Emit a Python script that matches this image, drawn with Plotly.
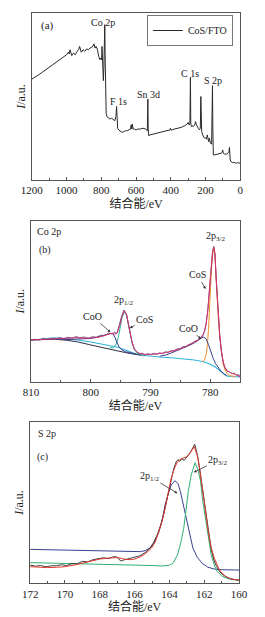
import plotly.graph_objects as go

W, H = 265, 617

# ---------------- Panel (a): survey spectrum ----------------
a_ev = [1200, 1180, 1160, 1140, 1120, 1100, 1080, 1060, 1040, 1020, 1000, 990, 985, 980, 975, 970,
        960, 950, 940, 930, 925, 920, 915, 905, 895, 885, 875, 865, 855, 848, 842, 836, 830, 822,
        815, 808, 803, 798, 796, 794, 791, 788, 785, 782, 780, 778, 775, 772, 768, 760, 750, 740,
        730, 722, 716, 712, 709, 706, 700, 690, 680, 670, 660, 650, 640, 632, 628, 625, 622, 619,
        616, 610, 600, 590, 575, 560, 545, 535, 532, 530, 527, 520, 500, 480, 460, 440, 420, 405,
        402, 398, 380, 360, 340, 320, 305, 300, 295, 290, 287, 285, 282, 278, 270, 262, 258, 252,
        248, 242, 235, 230, 227, 224, 222, 218, 210, 200, 195, 190, 185, 182, 178, 172, 165, 162,
        160, 158, 155, 150, 140, 130, 120, 110, 105, 101, 98, 90, 80, 72, 66, 62, 58, 53, 45, 35,
        25, 15, 8, 0]
a_int = [60.4, 61.5, 63, 64.5, 66, 67, 68.5, 70, 71.5, 73.5, 75, 76.5, 75.5, 78, 76, 74.5,
         76, 75, 77, 78, 80, 77, 76.5, 78, 77, 78.5, 78, 79, 79.5, 80, 81.5, 79, 80, 78,
         74, 72, 73, 72, 80, 72, 60, 59.5, 68, 80, 93, 75, 50, 40, 38, 37.5, 36.5, 37,
         36, 35.5, 38, 44, 38, 31, 30, 29, 28.5, 29, 29.5, 29.5, 30, 30.5, 33, 30.5, 33.5, 31,
         30.5, 30.5, 30, 30.5, 30.5, 31, 30.5, 29.5, 48.5, 31, 26.5, 27, 27.5, 28, 28.5, 29, 29.5, 30,
         31, 29.8, 30.5, 31, 31.5, 32.5, 33.5, 34.5, 33, 33.5, 61.5, 34, 32, 32.5, 32, 33, 35, 33,
         32, 31, 30, 31, 50, 35, 29, 27.5, 25.5, 25, 24.5, 27, 25, 23, 25, 22, 21.5, 40,
         56.5, 30, 15, 15, 15.2, 15.5, 15.5, 16, 16.5, 18, 16, 15.5, 15.5, 16, 16.5, 19.5, 12, 11, 10.5, 10.5,
         10, 10.5, 10, 10.5]
a_series = "CoS/FTO"
a_ticks = [1200, 1000, 800, 600, 400, 200, 0]

# ---------------- Panel (b): Co 2p ----------------
b_raw_ev = [810, 809.32, 808.63, 807.95, 807.26, 806.58, 805.89, 805.21, 804.52, 803.84, 803.15,
            802.47, 801.78, 801.10, 800.42, 799.73, 799.05, 798.36, 797.68, 796.99, 796.50, 796.01,
            795.62, 795.23, 794.84, 794.45, 794.06, 793.67, 793.37, 793.08, 792.69, 792.30, 791.91,
            791.42, 790.93, 790.44, 789.95, 789.46, 788.97, 788.48, 787.99, 787.51, 787.02, 786.53,
            786.04, 785.55, 785.06, 784.57, 784.08, 783.59, 783.10, 782.62, 782.13, 781.64, 781.25,
            780.95, 780.66, 780.37, 780.07, 779.78, 779.58, 779.39, 779.19, 779.00, 778.70, 778.41,
            778.12, 777.82, 777.53, 777.14, 776.75, 776.36, 775.97, 775.57, 775.18, 775.0]
b_raw = [25.5, 26.4, 25.8, 26.9, 26.1, 27.0, 26.3, 27.4, 26.6, 27.6, 27.0, 28.0, 27.2,
         27.8, 26.8, 27.9, 27.6, 28.8, 28.6, 30.2, 29.8, 30.6, 30.0, 35.5, 40.5,
         44.5, 42, 35, 28.5, 24.8, 20.0, 18.8, 17.2, 17.8, 16.6, 17.4, 16.8,
         17.6, 17.0, 17.9, 17.4, 18.6, 18.2, 19.4, 19.0, 20.4, 20.2, 21.8, 21.6, 23.2, 23.4,
         25.0, 25.4, 27.4, 28.2, 31.5, 36.5, 45.5, 60.5, 74.5, 81.5, 84, 79.5, 64.5,
         44.5, 29.5, 18.5, 12.0, 8.5, 6.5, 6.2, 5.0, 5.4, 4.0, 4.4, 2.8]
b_fit_ev = [810, 808.04, 806.09, 804.13, 802.47, 801.20, 800.22, 799.24, 798.26, 797.29, 796.60,
            795.92, 795.53, 795.13, 794.74, 794.35, 793.96, 793.67, 793.37, 793.08, 792.69, 792.20,
            791.61, 790.93, 789.46, 788.48, 787.51, 786.53, 785.55, 784.57, 783.59, 782.62, 781.93,
            781.34, 780.95, 780.66, 780.37, 780.07, 779.78, 779.58, 779.39, 779.19, 779.00, 778.70,
            778.41, 778.12, 777.82, 777.53, 777.14, 776.75, 776.06, 775.48, 775.0]
b_fit = [25.9, 26.2, 26.5, 26.8, 27.3, 27.0, 27.0, 27.3, 28, 29.2, 30, 29.5, 30.5, 35, 41,
         44, 41.5, 35.5, 29, 24.5, 20.5, 18.2, 17.3, 17.0, 17.0, 17.3, 18.0, 18.8, 19.8,
         21.2, 22.8, 24.5, 26.2, 28.5, 31, 36, 45, 60, 74, 81, 83.5, 79,
         65, 45, 30, 19, 12.5, 9, 7, 5.8, 5, 4, 3.2]
b_bg_ev = [810, 808.04, 806.09, 804.13, 802.18, 800.22, 798.26, 796.31, 795.33, 794.35, 793.37,
           792.40, 791.42, 790.44, 788.48, 786.53, 784.57, 782.62, 781.15, 780.17, 779.19, 778.22,
           777.73, 777.24, 776.75, 775.77, 775.0]
b_bg = [25.9, 26.6, 27.2, 26.8, 26.0, 24.8, 23.4, 22.2, 21.2, 19.8, 18.4, 17.2, 16.4, 15.9, 15.3,
        14.9, 14.3, 13.5, 12.4, 11.2, 9.3, 6.5, 4.5, 3.6, 3.2, 3.1, 3.0]
b_bg2_ev = [810, 808.04, 806.09, 804.13, 802.18, 800.22, 798.26, 796.31, 794.35, 792.89, 791.42]
b_bg2 = [25.9, 26.3, 26.4, 25.8, 24.7, 23.0, 21.3, 19.7, 18.2, 17.2, 16.4]
b_coo1_ev = [806.09, 804.13, 802.18, 800.22, 798.75, 797.78, 796.89, 796.31, 795.92, 795.62, 795.23,
             794.74, 794.16, 793.37, 792.40]
b_coo1 = [26.4, 26.2, 26.5, 26.8, 27.8, 28.8, 29.8, 29.9, 27.5, 24.3, 21.5, 19.6, 18.6, 18.0, 17.2]
b_cos1_ev = [796.80, 796.31, 795.92, 795.62, 795.33, 795.04, 794.74, 794.35, 793.96, 793.67, 793.37,
             793.08, 792.69, 792.20, 791.61, 790.93]
b_cos1 = [21.2, 21.0, 22.3, 24.3, 28.5, 34, 40, 43.5, 41, 35, 28.5, 24, 20, 17.6, 16.6, 16.0]
b_coo3_ev = [788.48, 787.51, 786.53, 785.55, 784.57, 783.59, 782.62, 781.93, 781.34, 781.05, 780.66,
             780.27, 779.88, 779.49, 779.10, 778.70, 778.22, 777.73, 777.24]
b_coo3 = [15.8, 16.5, 17.8, 19.2, 20.8, 22.4, 24.2, 26.0, 27.4, 27.6, 26.5, 23, 18.5, 14.5,
          11.2, 8.8, 6.8, 4.8, 3.8]
b_cos3_ev = [781.34, 780.95, 780.66, 780.46, 780.27, 780.07, 779.78, 779.58, 779.39, 779.19, 779.00,
             778.70, 778.41, 778.12, 777.82, 777.53, 777.14, 776.75, 775.77]
b_cos3 = [12.5, 13.5, 17, 23, 33, 50, 70, 79, 82.5, 78, 63, 43, 28, 17.5, 11, 7.5, 5, 3.8, 3.2]
b_ticks = [810, 800, 790, 780]

# ---------------- Panel (c): S 2p ----------------
c_raw_ev = [172, 171.7, 171.4, 171.1, 170.8, 170.5, 170.2, 169.9, 169.6, 169.3, 169.0, 168.7, 168.4,
            168.1, 167.8, 167.5, 167.2, 167.0, 166.8, 166.6, 166.3, 166.0, 165.7, 165.4, 165.1,
            164.9, 164.7, 164.5, 164.3, 164.1, 163.9, 163.75, 163.6, 163.5, 163.4, 163.3, 163.15,
            163.0, 162.85, 162.7, 162.6, 162.55, 162.45, 162.35, 162.2, 162.05, 161.9, 161.75,
            161.6, 161.45, 161.3, 161.1, 160.9, 160.7, 160.4, 160.0]
c_raw = [11.3, 10.6, 11.0, 10.2, 10.8, 10.9, 11.5, 11.0, 12.2, 12.0, 13.6, 13.2, 14.6,
         15.0, 15.8, 15.3, 16.5, 16.2, 13.8, 14.5, 15.2, 16.2, 17.0, 19.0, 22,
         25.5, 30, 36, 44, 54, 64, 71, 75.5, 76.5, 75.5, 77, 76.2,
         78, 80, 83, 84.5, 86, 82, 77, 66, 54, 43, 31,
         21, 14.5, 10.5, 7.0, 5.0, 3.8, 2.6, 1.8]
c_fit_ev = [172, 171.5, 171, 170.5, 170, 169.5, 169, 168.5, 168, 167.5, 167, 166.7, 166.5, 166.2,
            166, 165.7, 165.5, 165.2, 165.0, 164.8, 164.6, 164.4, 164.25, 164.1, 163.9, 163.7,
            163.54, 163.3, 163.0, 162.8, 162.57, 162.4, 162.3, 162.15, 162.04, 161.9, 161.77,
            161.6, 161.42, 161.2, 161.06, 160.8, 160.6, 160.3, 160]
c_fit = [10.3, 10.0, 9.7, 9.9, 10.3, 11.2, 12.4, 13.8, 15.0, 15.6, 15.9, 15.3, 14.8, 14.6,
         15.0, 16.2, 17.5, 20.0, 22.3, 26, 31.9, 39, 46.4, 55, 65, 71.5,
         75.2, 77.2, 78.3, 81, 84.5, 79, 73.2, 62, 52.6, 42, 31.9,
         22, 15.5, 10, 7.2, 4.5, 3.1, 2.4, 2]
c_p12_ev = [172, 171, 170, 169, 168, 167, 166, 165.66, 165.4, 165.13, 164.9, 164.6, 164.4, 164.25,
            164.05, 163.9, 163.68, 163.5, 163.37, 163.2, 163.0, 162.8, 162.65, 162.4, 162.12,
            161.8, 161.42, 161, 160]
c_p12 = [21, 20.8, 20.6, 20.4, 20.2, 20.0, 19.7, 19.6, 20.2, 21.7, 24.5, 31.9, 40, 48.5,
         56, 60.8, 63.5, 61.5, 56.7, 48, 38.1, 28, 21.7, 16, 12.4, 10, 8.8, 8.4, 8.2]
c_p32_ev = [172, 171, 170, 169, 168, 167, 166, 165, 164.43, 164, 163.8, 163.54, 163.35, 163.18,
            163.05, 162.92, 162.75, 162.53, 162.35, 162.21, 162.1, 161.95, 161.8, 161.6, 161.4,
            161.24, 161.0, 160.7, 160.4, 160]
c_p32 = [12.8, 12.6, 12.4, 12.2, 12.0, 11.7, 11.4, 11.0, 10.7, 11.2, 12.4, 17.5, 25, 34,
         45, 56.7, 67, 74.6, 70, 62.9, 52, 42.3, 30, 17.5, 10.5, 7.2, 4.5, 3.1, 2.3, 2]
c_ticks = [172, 170, 168, 166, 164, 162, 160]

# ---------------- figure ----------------
SERIF = "Liberation Serif, Times New Roman, DejaVu Serif, serif"
CJK = "Liberation Serif, Noto Sans CJK SC, serif"
FRAME = "#555555"

fig = go.Figure()

# (a)
fig.add_trace(go.Scatter(x=a_ev, y=a_int, mode="lines", name=a_series,
                         line=dict(color="#2a2a2a", width=1), xaxis="x", yaxis="y",
                         showlegend=True))

# (b)
def b_line(x, y, color, width=1.0):
    fig.add_trace(go.Scatter(x=x, y=y, mode="lines", line=dict(color=color, width=width),
                             xaxis="x2", yaxis="y2", showlegend=False))

b_line(b_bg_ev, b_bg, "#2fb3dc", 1.1)
b_line(b_bg2_ev, b_bg2, "#2d2d45", 1.0)
b_line(b_cos1_ev, b_cos1, "#2fb5a5", 1.0)
b_line(b_coo1_ev, b_coo1, "#3a3f8f", 1.0)
b_line(b_cos3_ev, b_cos3, "#f0902a", 1.0)
b_line(b_coo3_ev, b_coo3, "#3a3f8f", 1.0)
b_line(b_raw_ev, b_raw, "#5a467c", 0.9)
b_line(b_fit_ev, b_fit, "#d9346e", 1.0)

# (c)
def c_line(x, y, color, width=1.0):
    fig.add_trace(go.Scatter(x=x, y=y, mode="lines", line=dict(color=color, width=width),
                             xaxis="x3", yaxis="y3", showlegend=False))

c_line(c_p12_ev, c_p12, "#3b3f93", 1.0)
c_line(c_p32_ev, c_p32, "#2fae74", 1.0)
c_line(c_raw_ev, c_raw, "#2a2a2a", 0.9)
c_line(c_fit_ev, c_fit, "#e0382e", 1.0)


def px_x(p):
    return p / W


def px_y(p):
    return 1 - p / H


def xaxis(dom, rng, ticks, minor):
    return dict(domain=[px_x(dom[0]), px_x(dom[1])], range=rng, tickvals=ticks,
                ticks="inside", ticklen=3, tickcolor=FRAME, tickwidth=1,
                minor=dict(ticks="inside", dtick=minor, ticklen=2, tickcolor=FRAME),
                showline=True, mirror=True, linecolor=FRAME, linewidth=1,
                showgrid=False, zeroline=False,
                tickfont=dict(family=SERIF, size=11, color="#222"),
                title=dict(text="结合能/eV", font=dict(family=CJK, size=12, color="#222"),
                           standoff=0))


def yaxis(dom, anchor):
    return dict(domain=[px_y(dom[1]), px_y(dom[0])], range=[0, 100], anchor=anchor,
                showticklabels=False, ticks="", showline=True, mirror=True,
                linecolor=FRAME, linewidth=1, showgrid=False, zeroline=False,
                title=dict(text="<i>I</i>/a.u.", font=dict(family=SERIF, size=12, color="#222"),
                           standoff=2))


fig.update_layout(
    width=W, height=H, margin=dict(l=0, r=0, t=0, b=0),
    paper_bgcolor="white", plot_bgcolor="white",
    xaxis=dict(xaxis((22.5, 248), [1200, 0], a_ticks, 100), anchor="y"),
    yaxis=yaxis((13, 180), "x"),
    xaxis2=dict(xaxis((21.7, 247.7), [810, 775], b_ticks, 5), anchor="y2"),
    yaxis2=yaxis((220.7, 381.7), "x2"),
    xaxis3=dict(xaxis((20.7, 246.7), [172, 160], c_ticks, 1), anchor="y3"),
    yaxis3=yaxis((421.7, 583.3), "x3"),
    legend=dict(x=px_x(240), y=px_y(15), xanchor="right", yanchor="top",
                bordercolor="#777", borderwidth=1, bgcolor="white",
                font=dict(family=SERIF, size=10, color="#222"),
                itemwidth=30, tracegroupgap=0),
    showlegend=True,
)

ann_font = dict(family=SERIF, size=10, color="#222")
ARW = dict(showarrow=True, arrowhead=2, arrowsize=0.7, arrowwidth=0.8, arrowcolor="#333",
           standoff=0)
anns = [
    # (a)
    dict(x=1161, y=92.8, xref="x", yref="y", text="(a)", showarrow=False, xanchor="left", font=dict(family=SERIF, size=11, color="#222")),
    dict(x=788, y=94.2, xref="x", yref="y", text="Co 2p", showarrow=False),
    dict(x=703, y=46.9, xref="x", yref="y", text="F 1s", showarrow=False),
    dict(x=526, y=51.3, xref="x", yref="y", text="Sn 3d", showarrow=False),
    dict(x=291, y=63.9, xref="x", yref="y", text="C 1s", showarrow=False),
    dict(x=158, y=59.3, xref="x", yref="y", text="S 2p", showarrow=False),
    # (b)
    dict(x=809.32, y=93.2, xref="x2", yref="y2", text="Co 2p", showarrow=False, xanchor="left"),
    dict(x=809.02, y=82, xref="x2", yref="y2", text="(b)", showarrow=False, xanchor="left"),
    dict(x=794.45, y=50.7, xref="x2", yref="y2", text="2p<sub>1/2</sub>", showarrow=False),
    dict(x=779.1, y=90, xref="x2", yref="y2", text="2p<sub>3/2</sub>", showarrow=False),
    dict(x=796.70, y=30.7, xref="x2", yref="y2", text="CoO", ax=-18, ay=-16, **ARW),
    dict(x=793.47, y=33.2, xref="x2", yref="y2", text="CoS", ax=15, ay=-9, **ARW),
    dict(x=781.54, y=26.5, xref="x2", yref="y2", text="CoO", ax=-12, ay=-11, **ARW),
    dict(x=780.76, y=57.6, xref="x2", yref="y2", text="CoS", ax=-8, ay=-14, **ARW),
    # (c)
    dict(x=171.65, y=92.8, xref="x3", yref="y3", text="S 2p", showarrow=False, xanchor="left"),
    dict(x=171.7, y=78.3, xref="x3", yref="y3", text="(c)", showarrow=False, xanchor="left"),
    dict(x=163.54, y=55.7, xref="x3", yref="y3", text="2p<sub>1/2</sub>", ax=-28, ay=-17, **ARW),
    dict(x=162.6, y=68.7, xref="x3", yref="y3", text="2p<sub>3/2</sub>", ax=24, ay=-12, **ARW),
]
for a in anns:
    a.setdefault("font", ann_font)
fig.update_layout(annotations=anns)

fig.write_html("out.html", config={"displayModeBar": False},
               post_script="document.body.style.margin='0';")
